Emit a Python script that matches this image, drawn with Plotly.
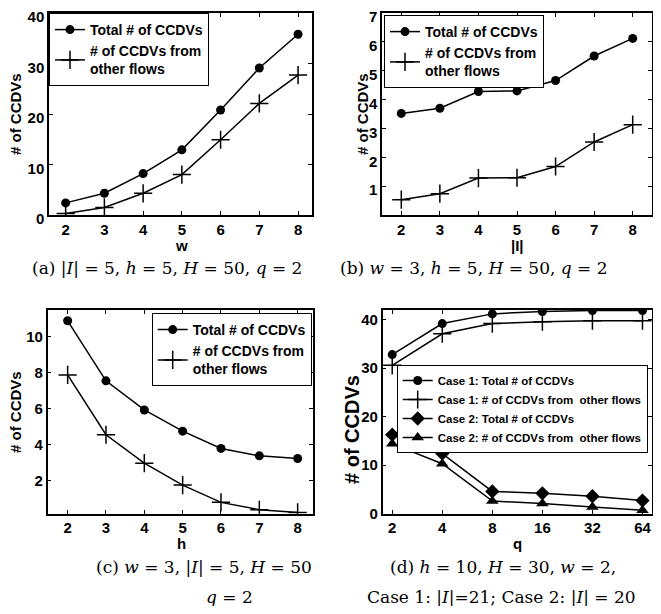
import plotly.graph_objects as go

# ---- data ----
w_values = [2, 3, 4, 5, 6, 7, 8]
a_total = [2.4, 4.3, 8.2, 12.9, 20.8, 29.1, 35.8]
a_other = [0.3, 1.5, 4.3, 8.0, 14.9, 22.1, 27.7]

I_values = [2, 3, 4, 5, 6, 7, 8]
b_total = [3.52, 3.70, 4.28, 4.30, 4.66, 5.51, 6.12]
b_other = [0.53, 0.74, 1.28, 1.29, 1.68, 2.53, 3.13]

h_values = [2, 3, 4, 5, 6, 7, 8]
c_total = [10.9, 7.56, 5.94, 4.76, 3.80, 3.39, 3.24]
c_other = [7.89, 4.56, 2.98, 1.76, 0.80, 0.39, 0.24]

q_labels = ["2", "4", "8", "16", "32", "64"]
d_case1_total = [32.8, 39.2, 41.2, 41.7, 41.9, 41.9]
d_case1_other = [30.6, 37.1, 39.2, 39.6, 39.8, 39.8]
d_case2_total = [16.3, 12.4, 4.6, 4.2, 3.6, 2.7]
d_case2_other = [14.4, 10.3, 2.6, 2.1, 1.4, 0.7]

# page has an 8px body margin; figure sized so it fills the 661x614 window
OFF = 8
W, H = 661 - 2 * OFF, 614 - 2 * OFF
SANS = "Liberation Sans, Arial, Helvetica, sans-serif"
SERIF = "DejaVu Serif, Liberation Serif, serif"


def fx(px):
    return (px - OFF) / W


def fy(py):
    return 1 - (py - OFF) / H


fig = go.Figure()

line = dict(color="black", width=1.5)
circ = dict(symbol="circle", size=9, color="black")
cross = dict(symbol="cross-thin", size=13, color="black", line=dict(color="black", width=1.5))
diam = dict(symbol="diamond", size=11, color="black")
tri = dict(symbol="triangle-up", size=11, color="black")

# (a)
fig.add_trace(go.Scatter(x=w_values, y=a_total, mode="lines+markers", line=line, marker=circ,
                         name="Total # of CCDVs", xaxis="x", yaxis="y", legend="legend"))
fig.add_trace(go.Scatter(x=w_values, y=a_other, mode="lines+markers", line=line, marker=cross,
                         name="# of CCDVs from<br>other flows", xaxis="x", yaxis="y", legend="legend"))
# (b)
fig.add_trace(go.Scatter(x=I_values, y=b_total, mode="lines+markers", line=line, marker=circ,
                         name="Total # of CCDVs", xaxis="x2", yaxis="y2", legend="legend2"))
fig.add_trace(go.Scatter(x=I_values, y=b_other, mode="lines+markers", line=line, marker=cross,
                         name="# of CCDVs from<br>other flows", xaxis="x2", yaxis="y2", legend="legend2"))
# (c)
fig.add_trace(go.Scatter(x=h_values, y=c_total, mode="lines+markers", line=line, marker=circ,
                         name="Total # of CCDVs", xaxis="x3", yaxis="y3", legend="legend3"))
fig.add_trace(go.Scatter(x=h_values, y=c_other, mode="lines+markers", line=line, marker=cross,
                         name="# of CCDVs from<br>other flows", xaxis="x3", yaxis="y3", legend="legend3"))
# (d)
fig.add_trace(go.Scatter(x=q_labels, y=d_case1_total, mode="lines+markers", line=line, marker=circ,
                         name="Case 1: Total # of CCDVs", xaxis="x4", yaxis="y4", legend="legend4"))
fig.add_trace(go.Scatter(x=q_labels, y=d_case1_other, mode="lines+markers", line=line, marker=cross,
                         name="Case 1: # of CCDVs from&nbsp; other flows", xaxis="x4", yaxis="y4", legend="legend4"))
fig.add_trace(go.Scatter(x=q_labels, y=d_case2_total, mode="lines+markers", line=line, marker=diam,
                         name="Case 2: Total # of CCDVs", xaxis="x4", yaxis="y4", legend="legend4"))
fig.add_trace(go.Scatter(x=q_labels, y=d_case2_other, mode="lines+markers", line=line, marker=tri,
                         name="Case 2: # of CCDVs from&nbsp; other flows", xaxis="x4", yaxis="y4", legend="legend4"))

tickfont = dict(family=SANS, size=15, color="black", weight="bold")


def axis(domain, rng, **kw):
    d = dict(domain=domain, range=rng, showline=True, linecolor="black", linewidth=1.5,
             mirror="ticks", ticks="inside", ticklen=4, tickwidth=1, tickcolor="black",
             showgrid=False, zeroline=False, tickfont=tickfont, automargin=False,
             ticklabeloverflow="allow")
    d.update(kw)
    return d


ya_dom = [fy(215), fy(13)]
yc_dom = [fy(513.7), fy(310)]

fig.update_layout(
    width=W, height=H, margin=dict(l=0, r=0, t=0, b=0, autoexpand=False),
    paper_bgcolor="white", plot_bgcolor="white", showlegend=True,
    xaxis=axis([fx(49), fx(312)], [1.57, 8.36], anchor="y", tickvals=w_values),
    yaxis=axis(ya_dom, [0, 40], anchor="x", tickvals=[0, 10, 20, 30, 40], ticklabelshift=4),
    xaxis2=axis([fx(382), fx(652)], [1.5, 8.5], anchor="y2", tickvals=I_values),
    yaxis2=axis(ya_dom, [0, 7], anchor="x2", tickvals=[1, 2, 3, 4, 5, 6, 7], ticklabelshift=4),
    xaxis3=axis([fx(47.7), fx(313)], [1.48, 8.4], anchor="y3", tickvals=h_values),
    yaxis3=axis(yc_dom, [0.17, 11.5], anchor="x3", tickvals=[2, 4, 6, 8, 10]),
    xaxis4=axis([fx(382.7), fx(652)], [-0.19, 5.19], anchor="y4", type="category"),
    yaxis4=axis(yc_dom, [0, 42], anchor="x4", tickvals=[0, 10, 20, 30, 40]),
)

legfont = dict(family=SANS, size=14, color="black", weight="bold")
common = dict(bordercolor="black", borderwidth=1, bgcolor="white", tracegroupgap=0,
              xanchor="left", yanchor="top", itemwidth=30)
fig.update_layout(
    legend=dict(x=fx(49), y=fy(13), font=legfont, **common),
    legend2=dict(x=fx(384), y=fy(15), font=legfont, **common),
    legend3=dict(x=fx(151.7), y=fy(313), font=legfont, **common),
    legend4=dict(x=fx(396.7), y=fy(365), font=dict(family=SANS, size=11.5, color="black", weight="bold"), **common),
)

ann = []
labfont = dict(family=SANS, size=15, color="black", weight="bold")
# y-axis titles
for (xp, yp, size) in [(15, 114, 15), (362, 114, 15), (15, 412, 15), (352, 430, 20)]:
    ann.append(dict(x=fx(xp), y=fy(yp), xref="paper", yref="paper", text="# of CCDVs",
                    textangle=-90, showarrow=False, xanchor="center", yanchor="middle",
                    font=dict(family=SANS, size=size, color="black", weight="bold")))
# x-axis titles
for (xp, yp, t) in [(181, 246, "w"), (517, 246, "|I|"), (181, 543, "h"), (517, 543, "q")]:
    ann.append(dict(x=fx(xp), y=fy(yp), xref="paper", yref="paper", text=t, showarrow=False,
                    xanchor="center", yanchor="middle", font=labfont))
capfont = dict(family=SERIF, size=17, color="black")
caps = [
    (167, 268, "(a) |<i>I</i>| = 5, <i>h</i> = 5, <i>H</i> = 50, <i>q</i> = 2"),
    (474, 268, "(b) <i>w</i> = 3, <i>h</i> = 5, <i>H</i> = 50, <i>q</i> = 2"),
    (204, 567, "(c) <i>w</i> = 3, |<i>I</i>| = 5, <i>H</i> = 50"),
    (229, 597, "<i>q</i> = 2"),
    (503, 567, "(d) <i>h</i> = 10, <i>H</i> = 30, <i>w</i> = 2,"),
    (501, 597, "Case 1: |<i>I</i>|=21; Case 2: |<i>I</i>| = 20"),
]
for (xp, yp, t) in caps:
    ann.append(dict(x=fx(xp), y=fy(yp), xref="paper", yref="paper", text=t, showarrow=False,
                    xanchor="center", yanchor="middle", font=capfont))
fig.update_layout(annotations=ann)

fig.write_html("out.html")
